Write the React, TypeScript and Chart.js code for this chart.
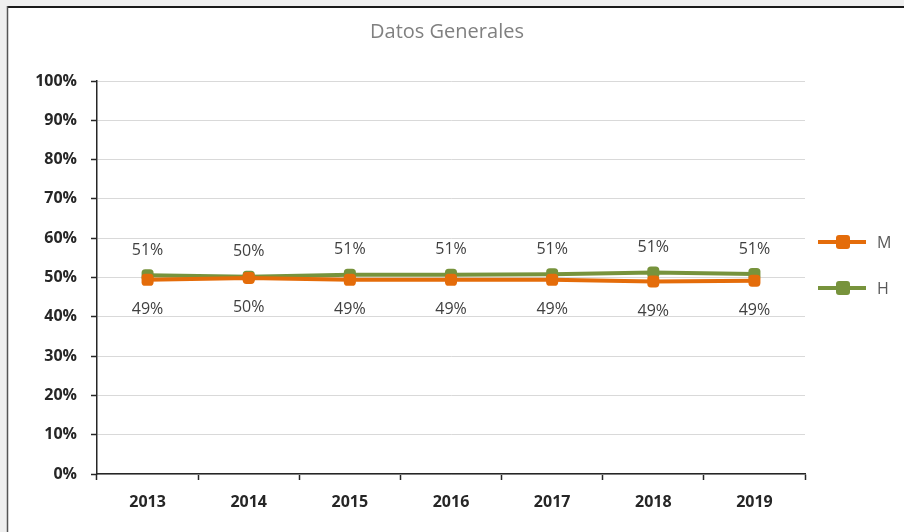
import React, { useEffect, useRef } from "react";
import { Chart, registerables } from "chart.js";

Chart.register(...registerables);

const TITLE = "Datos Generales";
const YEARS = ["2013", "2014", "2015", "2016", "2017", "2018", "2019"];
const M_VALUES = [49.4, 49.9, 49.4, 49.4, 49.4, 49.0, 49.2];
const H_VALUES = [50.6, 50.2, 50.7, 50.7, 50.8, 51.3, 50.9];
const SERIES_NAMES = ["M", "H"];
const Y_TICKS = [0, 10, 20, 30, 40, 50, 60, 70, 80, 90, 100];

const ORANGE = "#E46C0A";
const GREEN = "#77933C";
const FONT = "'Open Sans', 'Liberation Sans', sans-serif";

const framePlugin = {
  id: "frame",
  beforeDraw(chart: any) {
    const { ctx, width, height } = chart;
    ctx.save();
    ctx.fillStyle = "#efefef";
    ctx.fillRect(0, 0, width, height);
    ctx.fillStyle = "#ffffff";
    ctx.fillRect(7, 6, width - 7, height - 6);
    ctx.strokeStyle = "#1a1a1a";
    ctx.lineWidth = 2;
    ctx.beginPath();
    ctx.moveTo(7, 7);
    ctx.lineTo(width, 7);
    ctx.stroke();
    ctx.strokeStyle = "#555555";
    ctx.lineWidth = 1.5;
    ctx.beginPath();
    ctx.moveTo(7.5, 6);
    ctx.lineTo(7.5, height);
    ctx.stroke();
    // title
    ctx.fillStyle = "#808080";
    ctx.font = `20px ${FONT}`;
    ctx.textAlign = "center";
    ctx.textBaseline = "middle";
    ctx.fillText(TITLE, 447, 32);
    ctx.restore();
  },
};

const labelsPlugin = {
  id: "pointLabels",
  afterDatasetsDraw(chart: any) {
    const { ctx } = chart;
    ctx.save();
    ctx.font = `16px ${FONT}`;
    ctx.fillStyle = "#404040";
    ctx.textAlign = "center";
    ctx.textBaseline = "middle";
    chart.data.datasets.forEach((ds: any, i: number) => {
      const meta = chart.getDatasetMeta(i);
      meta.data.forEach((pt: any, j: number) => {
        const v = Math.round(ds.data[j]);
        const dy = i === 0 ? 30 : -25;
        ctx.fillText(v + "%", pt.x, pt.y + dy);
      });
    });
    // legend
    const legendY = [242, 288];
    chart.data.datasets.forEach((ds: any, i: number) => {
      const y = legendY[i];
      ctx.strokeStyle = ds.borderColor;
      ctx.lineWidth = 4;
      ctx.beginPath();
      ctx.moveTo(818, y);
      ctx.lineTo(866, y);
      ctx.stroke();
      ctx.fillStyle = ds.borderColor;
      const r = 7;
      ctx.beginPath();
      (ctx as any).roundRect(843 - r, y - r, 2 * r, 2 * r, 3);
      ctx.fill();
      ctx.fillStyle = "#595959";
      ctx.textAlign = "left";
      ctx.font = `16px ${FONT}`;
      ctx.fillText(ds.label, 877, y + 1);
    });
    ctx.restore();
  },
};

export default function App() {
  const ref = useRef<HTMLCanvasElement>(null);
  useEffect(() => {
    document.body.style.margin = "0";
    const chart = new Chart(ref.current as HTMLCanvasElement, {
      type: "line",
      data: {
        labels: YEARS,
        datasets: [
          {
            label: SERIES_NAMES[0],
            data: M_VALUES,
            borderColor: ORANGE,
            backgroundColor: ORANGE,
            borderWidth: 4,
            pointStyle: "rectRounded",
            pointRadius: 7,
            pointBorderWidth: 0,
          },
          {
            label: SERIES_NAMES[1],
            data: H_VALUES,
            borderColor: GREEN,
            backgroundColor: GREEN,
            borderWidth: 4,
            pointStyle: "rectRounded",
            pointRadius: 7,
            pointBorderWidth: 0,
          },
        ],
      },
      plugins: [framePlugin, labelsPlugin],
      options: {
        animation: false,
        responsive: false,
        layout: { padding: { left: 0, right: 99, top: 81, bottom: 0 } },
        plugins: {
          legend: { display: false },
          title: { display: false },
          tooltip: { enabled: false },
        },
        scales: {
          x: {
            offset: true,
            grid: {
              offset: true,
              drawOnChartArea: false,
              drawTicks: true,
              tickLength: 6,
              tickColor: "#262626",
              tickWidth: 1.5,
            },
            border: { display: true, color: "#262626", width: 1.5 },
            ticks: {
              padding: 13,
              color: "#262626",
              font: { family: FONT, size: 16, weight: "bold" },
            },
            afterFit(scale: any) {
              scale.height = 58;
            },
          },
          y: {
            min: 0,
            max: 100,
            afterBuildTicks(scale: any) {
              scale.ticks = Y_TICKS.map((v) => ({ value: v }));
            },
            grid: {
              color: "#d9d9d9",
              lineWidth: 1,
              drawTicks: true,
              tickLength: 6,
              tickColor: "#262626",
              tickWidth: 1.5,
            },
            border: { display: true, color: "#262626", width: 1.5 },
            ticks: {
              padding: 14,
              color: "#262626",
              font: { family: FONT, size: 16, weight: "bold" },
              callback: (v: any) => v + "%",
            },
            afterFit(scale: any) {
              scale.width = 97;
            },
          },
        },
      },
    } as any);
    return () => chart.destroy();
  }, []);
  return (
    <div style={{ position: "relative", width: 904, height: 532 }}>
      <canvas ref={ref} width={904} height={532} style={{ display: "block" }} />
    </div>
  );
}
